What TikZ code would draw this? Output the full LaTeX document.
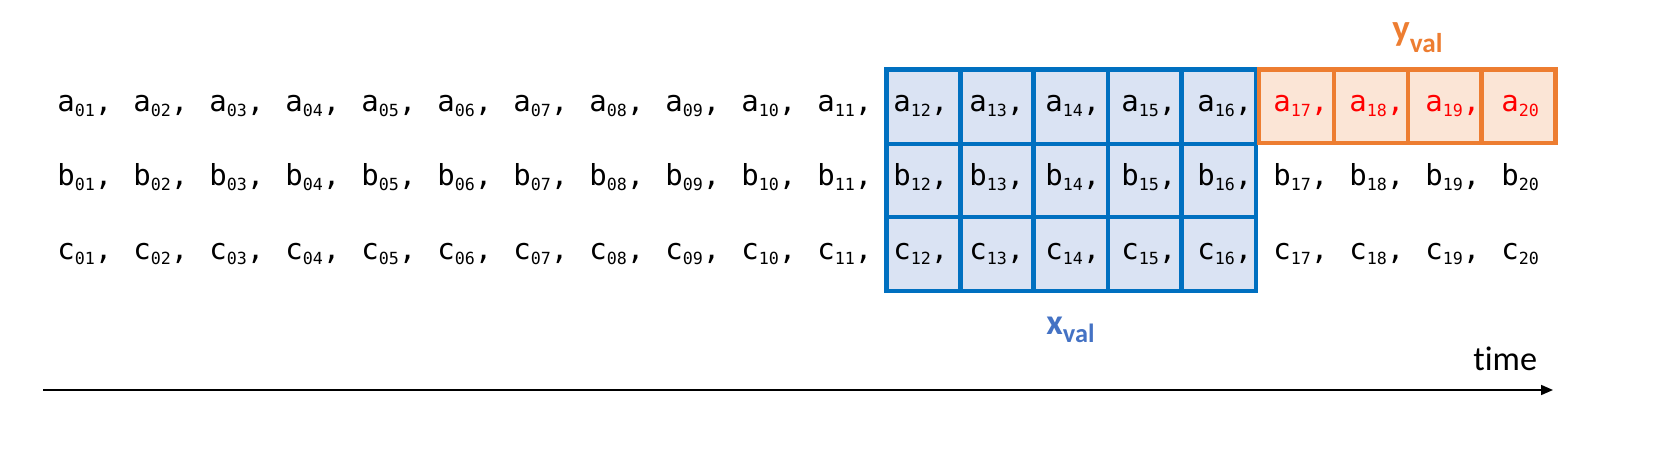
\documentclass[tikz,border=0pt]{standalone}
\usepackage{fontspec}
\setmonofont{DejaVu Sans Mono}
\setsansfont{Carlito}[Ligatures=NoCommon]
\usetikzlibrary{arrows.meta}
\definecolor{bluebd}{HTML}{0070C0}
\definecolor{bluefl}{HTML}{DAE3F3}
\definecolor{orbd}{HTML}{ED7D31}
\definecolor{orfl}{HTML}{FBE5D6}
\definecolor{lblblue}{HTML}{4472C4}
\definecolor{redtx}{HTML}{FF0000}
\newcommand\mysub[2]{#1\raisebox{-2.3pt}{\fontsize{9.5}{10}\selectfont #2}}
\tikzset{
  val/.style={anchor=base west, inner sep=0pt, font=\ttfamily\fontsize{16.5}{20}\selectfont},
  gridline/.style={line width=2.56pt},
  sanslbl/.style={anchor=base west, inner sep=0pt, font=\sffamily}
}
\begin{document}
\begin{tikzpicture}[x=0.02cm,y=-0.02cm]
\useasboundingbox (0,0) rectangle (1656,465);
% blue window
\fill[bluefl] (886.5,69.6) rectangle (1256,291);
\draw[gridline, draw=bluebd] (886.5,69.6) rectangle (1256,291);
\foreach \x in {960.5,1033.7,1108,1181.5}
  \draw[gridline, draw=bluebd] (\x,69.6) -- (\x,291);
\foreach \y in {143.8,217}
  \draw[gridline, draw=bluebd] (886.5,\y) -- (1256,\y);
% orange window
\fill[orfl] (1259,69.6) rectangle (1555.5,143);
\draw[gridline, draw=orbd] (1259,69.6) rectangle (1555.5,143);
\foreach \x in {1334,1408,1481.5}
  \draw[gridline, draw=orbd] (\x,69.6) -- (\x,143);
% values
\foreach \r/\yy in {a/112,b/186,c/260}{
  \foreach \i in {1,...,20}{
    \pgfmathtruncatemacro{\xx}{57+76*(\i-1)}
    \edef\num{\ifnum\i<10 0\fi\i}
    \def\cm{,}\ifnum\i=20\relax\def\cm{}\fi
    \def\col{black}\ifnum\i>16\relax\if\r a\def\col{redtx}\fi\fi
    \node[val, text=\col] (\r\num) at (\xx,\yy) {\mysub{\r}{\num}\cm};
  }
}
% labels
\node[sanslbl, text=lblblue] (xval) at (1046,335)
  {\fontsize{20.5}{24}\selectfont\bfseries x\raisebox{-4.5pt}{\fontsize{15}{18}\selectfont val}};
\node[sanslbl, text=orbd] (yval) at (1392,41)
  {\fontsize{21}{24}\selectfont\bfseries y\raisebox{-6.3pt}{\fontsize{15.5}{18}\selectfont val}};
\node[sanslbl] (time) at (1473,371) {\fontsize{19.5}{22}\selectfont time};
% time axis
\coordinate (ts) at (43,390);
\coordinate (te) at (1553,390);
\draw[line width=0.85pt, -{Triangle[length=6.8pt,width=5.7pt]}] (ts) -- (te);
\end{tikzpicture}
\end{document}
